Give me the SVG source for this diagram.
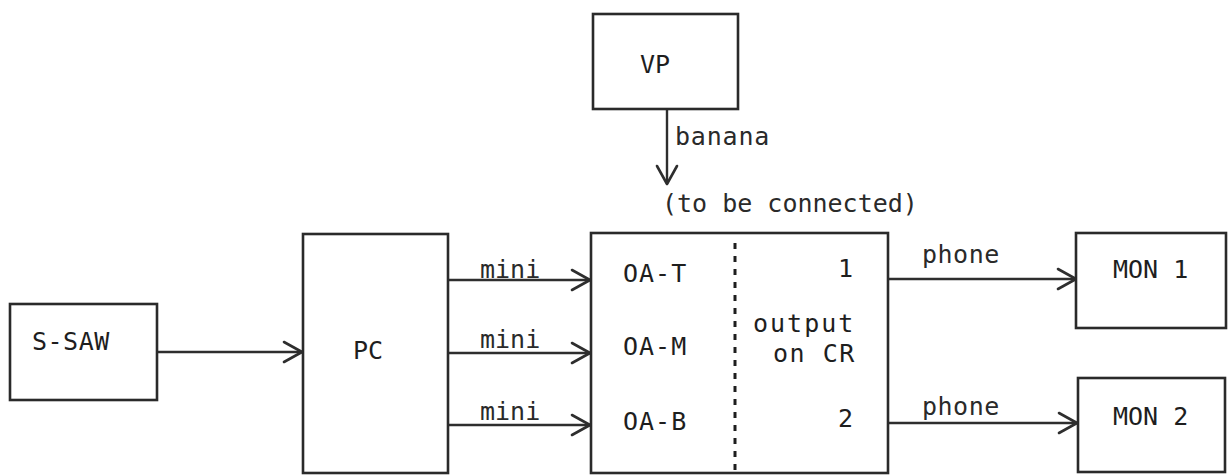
<svg xmlns="http://www.w3.org/2000/svg" width="1229" height="475" viewBox="0 0 1229 475">
<defs>
<style>
.box{fill:#fff;stroke:#2a2a2a;stroke-width:2.6}
.t{font-family:"DejaVu Sans Mono","Liberation Mono",monospace;font-size:25px;fill:#1e1e1e}
.lbl{font-family:"DejaVu Sans Mono","Liberation Mono",monospace;font-size:25px;fill:#2a2a2a}
.c{fill:none;stroke:#2e2e2e;stroke-width:2.4}
.dash{fill:none;stroke:#1e1e1e;stroke-width:3;stroke-dasharray:6 7}
</style>
<marker id="ah" markerUnits="userSpaceOnUse" markerWidth="22" markerHeight="26" viewBox="-20 -13 22 26" refX="0" refY="0" orient="auto">
<path d="M-18,-10 L0,0 L-18,10" fill="none" stroke="#2e2e2e" stroke-width="2.6" stroke-linecap="round" stroke-linejoin="round"/>
</marker>
</defs>
<rect width="1229" height="475" fill="#fff"/>
<g id="connectors">
<line class="c" x1="157" y1="352" x2="302" y2="352" marker-end="url(#ah)"/>
<line class="c" x1="448" y1="280" x2="590" y2="280" marker-end="url(#ah)"/>
<line class="c" x1="448" y1="353" x2="590" y2="353" marker-end="url(#ah)"/>
<line class="c" x1="448" y1="425" x2="590" y2="425" marker-end="url(#ah)"/>
<line class="c" x1="667" y1="109" x2="667" y2="184" marker-end="url(#ah)"/>
<line class="c" x1="888" y1="279" x2="1076" y2="279" marker-end="url(#ah)"/>
<line class="c" x1="888" y1="423" x2="1077" y2="423" marker-end="url(#ah)"/>
<text class="lbl" x="675" y="145" letter-spacing="0.8">banana</text>
<text class="lbl" x="662" y="212" font-size="24">(to be connected)</text>
<text class="lbl" x="480" y="278">mini</text>
<text class="lbl" x="480" y="348">mini</text>
<text class="lbl" x="480" y="420">mini</text>
<text class="lbl" x="922" y="263" letter-spacing="0.5">phone</text>
<text class="lbl" x="922" y="415" letter-spacing="0.5">phone</text>
</g>
<g id="s-saw">
<rect class="box" x="10" y="304" width="147" height="96"/>
<text class="t" x="32" y="350" letter-spacing="0.5">S-SAW</text>
</g>
<g id="pc">
<rect class="box" x="303" y="234" width="145" height="239"/>
<text class="t" x="353" y="359">PC</text>
</g>
<g id="vp">
<rect class="box" x="593" y="14" width="145" height="95"/>
<text class="t" x="640" y="73">VP</text>
</g>
<g id="cr">
<rect class="box" x="591" y="233" width="297" height="240"/>
<line class="dash" x1="735" y1="243" x2="735" y2="473"/>
<text class="t" x="623" y="282" letter-spacing="1">OA-T</text>
<text class="t" x="623" y="355" letter-spacing="1">OA-M</text>
<text class="t" x="623" y="430" letter-spacing="1">OA-B</text>
<text class="t" x="838" y="277">1</text>
<text class="t" x="838" y="427">2</text>
<text class="t" x="753" y="332" letter-spacing="2">output</text>
<text class="t" x="773" y="362" letter-spacing="1.5">on CR</text>
</g>
<g id="mon1">
<rect class="box" x="1076" y="233" width="150" height="95"/>
<text class="t" x="1113" y="278">MON 1</text>
</g>
<g id="mon2">
<rect class="box" x="1078" y="378" width="147" height="94"/>
<text class="t" x="1113" y="425">MON 2</text>
</g>
</svg>
